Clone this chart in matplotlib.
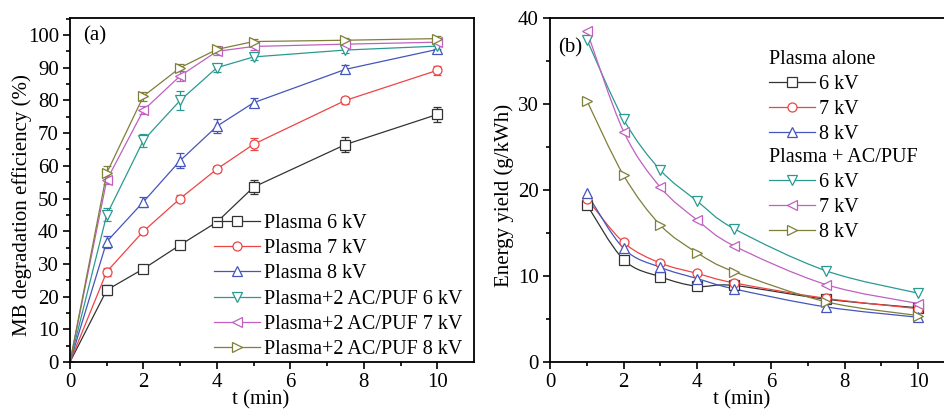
import matplotlib
matplotlib.use('Agg')
import matplotlib.pyplot as plt
import numpy as np
from matplotlib.path import Path
from matplotlib.patches import PathPatch
from matplotlib.lines import Line2D

plt.rcParams['font.family'] = ['Liberation Serif', 'DejaVu Serif']

# ---- data ----
t_a = [0, 1, 2, 3, 4, 5, 7.5, 10]
p6 = [0, 22.0, 28.5, 35.8, 42.8, 53.5, 66.5, 75.7]
p7 = [0, 27.6, 40.0, 50.0, 59.0, 66.6, 80.0, 89.2]
p8 = [0, 36.8, 49.0, 61.6, 72.1, 79.3, 89.5, 95.6]
ac6 = [0, 45.0, 67.8, 80.0, 90.0, 93.3, 95.4, 96.6]
ac7 = [0, 55.6, 77.0, 87.5, 95.0, 96.5, 97.2, 97.8]
ac8 = [0, 57.8, 81.3, 90.0, 95.6, 98.0, 98.4, 98.9]
err_p6 = [0, 1.6, 1.0, 0.8, 1.0, 2.2, 2.2, 2.2]
err_p7 = [0, 1.2, 1.0, 1.0, 0.8, 1.8, 1.0, 1.4]
err_p8 = [0, 1.8, 1.6, 2.2, 2.2, 1.4, 1.2, 1.0]
err_ac6 = [0, 2.0, 2.0, 3.0, 1.2, 1.0, 1.0, 0.8]
err_ac7 = [0, 1.2, 1.2, 1.6, 1.0, 1.0, 1.0, 0.8]
err_ac8 = [0, 2.0, 1.4, 1.0, 1.0, 0.8, 0.8, 0.8]

t_b = [1, 2, 3, 4, 5, 7.5, 10]
ey_p6 = [18.3, 11.9, 9.9, 8.8, 8.9, 7.3, 6.3]
ey_p7 = [19.0, 13.9, 11.5, 10.3, 9.2, 7.4, 6.2]
ey_p8 = [19.6, 13.2, 11.0, 9.7, 8.5, 6.4, 5.2]
ey_ac6 = [37.5, 28.2, 22.3, 18.7, 15.5, 10.6, 8.0]
ey_ac7 = [38.5, 26.8, 20.3, 16.5, 13.5, 9.0, 6.8]
ey_ac8 = [30.4, 21.7, 15.9, 12.7, 10.5, 7.0, 5.4]

labels_a = ['Plasma 6 kV', 'Plasma 7 kV', 'Plasma 8 kV',
            'Plasma+2 AC/PUF 6 kV', 'Plasma+2 AC/PUF 7 kV', 'Plasma+2 AC/PUF 8 kV']
labels_b = ['6 kV', '7 kV', '8 kV']

colors = ['#333333', '#ee4444', '#4455bb', '#2a9a90', '#c060c0', '#7f7f3a']
markers = ['s', 'o', '^', 'v', '<', '>']

FS = 14.5


def smooth_path(x, y):
    # Catmull-Rom through the data points, drawn as cubic Bezier segments
    x = np.asarray(x, float)
    y = np.asarray(y, float)
    verts = [(x[0], y[0])]
    codes = [Path.MOVETO]
    n = len(x)
    for i in range(n - 1):
        i0 = max(i - 1, 0)
        i3 = min(i + 2, n - 1)
        c1 = (x[i] + (x[i + 1] - x[i0]) / 6, y[i] + (y[i + 1] - y[i0]) / 6)
        c2 = (x[i + 1] - (x[i3] - x[i]) / 6, y[i + 1] - (y[i3] - y[i]) / 6)
        verts += [c1, c2, (x[i + 1], y[i + 1])]
        codes += [Path.CURVE4] * 3
    return Path(verts, codes)


def style_axes(ax, xlim, ylim, ymaj, ymin):
    ax.set_xlim(*xlim)
    ax.set_ylim(*ylim)
    ax.set_xticks(np.arange(0, 11, 2))
    ax.set_xticks(np.arange(1, 11, 2), minor=True)
    ax.set_yticks(np.arange(0, ylim[1] + 0.1, ymaj))
    ax.set_yticks(np.arange(ymin, ylim[1], ymaj), minor=True)
    ax.tick_params(which='major', direction='out', length=5, width=1.2, labelsize=15, pad=3)
    ax.tick_params(which='minor', direction='out', length=3, width=1.2)
    for s in ax.spines.values():
        s.set_linewidth(1.3)


def make_handle(c, m):
    return Line2D([], [], color=c, lw=0.9, marker=m, ms=6.5, mfc='white', mec=c, mew=0.9)


leg_kw = dict(loc='upper left', frameon=False, fontsize=FS, handlelength=2.3,
              handletextpad=0.2, labelspacing=0.3, borderpad=0, borderaxespad=0)

fig = plt.figure(figsize=(9.44, 4.09), dpi=100)

# ---- panel (a) ----
ax1 = fig.add_axes([70 / 944, 1 - 362 / 409, 404 / 944, 344 / 409])
series_a = [p6, p7, p8, ac6, ac7, ac8]
errs_a = [err_p6, err_p7, err_p8, err_ac6, err_ac7, err_ac8]
handles = []
for y, e, c, m, lab in zip(series_a, errs_a, colors, markers, labels_a):
    ax1.errorbar(t_a, y, yerr=e, color=c, lw=0.9, capsize=3, capthick=0.9,
                 elinewidth=0.9, marker=m, ms=6.5, mfc='white', mec=c, mew=0.9,
                 markevery=slice(1, None))
    handles.append(make_handle(c, m))
style_axes(ax1, (0, 11), (0, 105.2), 10, 5)
ax1.set_xlabel('t (min)', fontsize=15)
ax1.xaxis.set_label_coords(0.473, -0.081)
ax1.set_ylabel('MB degradation efficiency (%)', fontsize=15)
ax1.yaxis.set_label_coords(-0.094, 0.456)
ax1.text(0.032, 0.975, '(a)', transform=ax1.transAxes, fontsize=15, va='top', ha='left')
ax1.legend(handles=handles, labels=labels_a, bbox_to_anchor=(0.356, 0.43), **leg_kw)

# ---- panel (b) ----
ax2 = fig.add_axes([550 / 944, 1 - 362 / 409, 405 / 944, 344 / 409])
series_b = [ey_p6, ey_p7, ey_p8, ey_ac6, ey_ac7, ey_ac8]
hb = []
for y, c, m in zip(series_b, colors, markers):
    ax2.add_patch(PathPatch(smooth_path(t_b, y), fill=False, edgecolor=c, lw=0.9))
    ax2.plot(t_b, y, ls='none', marker=m, ms=6.5, mfc='white', mec=c, mew=0.9)
    hb.append(make_handle(c, m))
style_axes(ax2, (0, 11), (0, 40), 10, 5)
ax2.set_xlabel('t (min)', fontsize=15)
ax2.xaxis.set_label_coords(0.472, -0.081)
ax2.set_ylabel('Energy yield (g/kWh)', fontsize=15)
ax2.yaxis.set_label_coords(-0.089, 0.485)
ax2.text(0.02, 0.94, '(b)', transform=ax2.transAxes, fontsize=15, va='top', ha='left')
leg1 = ax2.legend(handles=hb[:3], labels=labels_b, title='Plasma alone', alignment='left',
                  title_fontsize=FS, bbox_to_anchor=(0.541, 0.908), **leg_kw)
ax2.add_artist(leg1)
ax2.legend(handles=hb[3:], labels=labels_b, title='Plasma + AC/PUF', alignment='left',
           title_fontsize=FS, bbox_to_anchor=(0.541, 0.623), **leg_kw)

fig.savefig('out.png', dpi=100)
